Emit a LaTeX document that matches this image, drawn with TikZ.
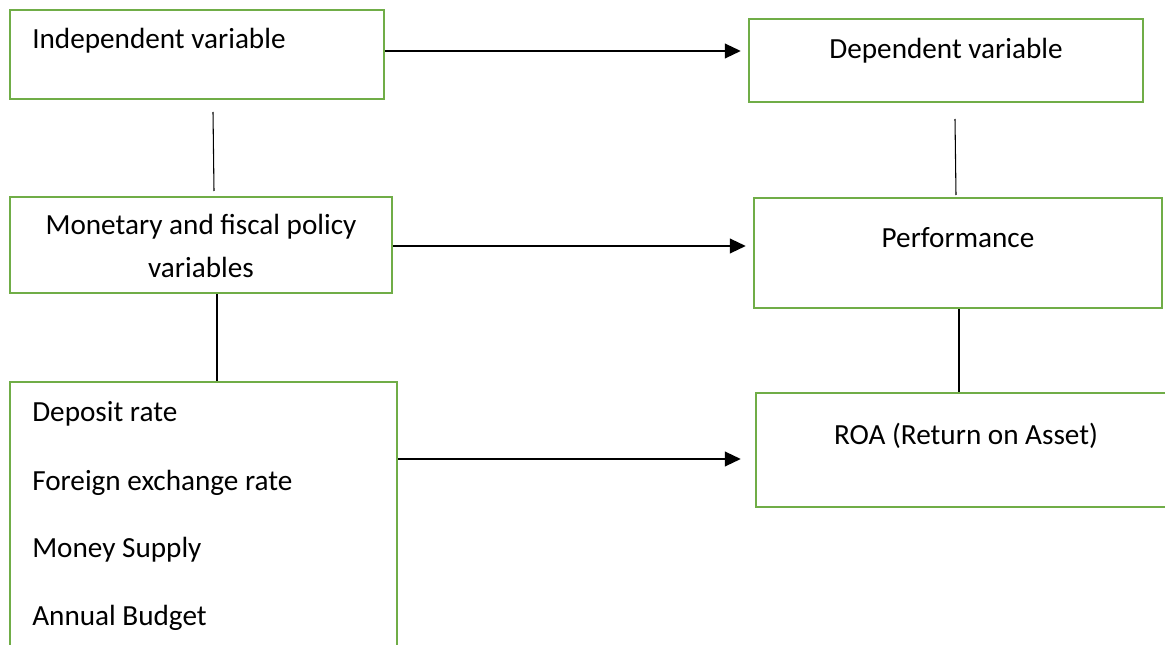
\documentclass[tikz,border=0pt]{standalone}
\usepackage{fontspec}
\setmainfont{Carlito}
\usetikzlibrary{arrows.meta}
\definecolor{boxgreen}{HTML}{70AD47}
\tikzset{
  box/.style={draw=boxgreen, line width=1.8pt, rectangle, inner sep=0pt},
  txt/.style={font=\fontsize{21.9pt}{26pt}\selectfont, inner sep=0pt},
  arr/.style={line width=1.5pt, -{Triangle[length=12pt,width=11pt]}},
  thin/.style={line width=0.8pt}
}
\begin{document}
\begin{tikzpicture}[x=0.75pt,y=-0.75pt]
\useasboundingbox (0,0) rectangle (1165,645);
\clip (0,0) rectangle (1165,645);
% boxes (corners in px)
\node[box, minimum width=374*0.75pt, minimum height=89*0.75pt] (indep) at (197,54.5) {};
\node[box, minimum width=394*0.75pt, minimum height=83*0.75pt] (dep) at (946,60.5) {};
\node[box, minimum width=382*0.75pt, minimum height=96*0.75pt] (mon) at (201,245) {};
\node[box, minimum width=408*0.75pt, minimum height=110*0.75pt] (perf) at (958,253) {};
\node[box, minimum width=387*0.75pt, minimum height=290*0.75pt] (vars) at (203.5,527) {};
\node[box, minimum width=420*0.75pt, minimum height=114*0.75pt] (roa) at (966,450) {};
% texts
\node[txt, anchor=base west] (tindep) at (32,49) {Independent variable};
\node[txt, anchor=base] (tdep) at (946,59) {Dependent variable};
\node[txt, anchor=base] (tmon1) at (201,235) {Monetary and fiscal policy};
\node[txt, anchor=base] (tmon2) at (201,278) {variables};
\node[txt, anchor=base] (tperf) at (958,248) {Performance};
\node[txt, anchor=base] (troa) at (966,445) {ROA (Return on Asset)};
\node[txt, anchor=base west] (v1) at (32,422) {Deposit rate};
\node[txt, anchor=base west] (v2) at (32,490) {Foreign exchange rate};
\node[txt, anchor=base west] (v3) at (32,557) {Money Supply};
\node[txt, anchor=base west] (v4) at (32,625) {Annual Budget};
% arrows
\draw[arr] (indep.east |- 0,51) -- ([xshift=-7*0.75pt]dep.west |- 0,51);
\draw[arr] (mon.east |- 0,246) -- ([xshift=-7*0.75pt]perf.west |- 0,246);
\draw[arr] (vars.east |- 0,459) -- ([xshift=-14*0.75pt]roa.west |- 0,459);
% vertical lines
\coordinate (l1a) at (213,112);
\coordinate (l1b) at (214,191);
\draw[thin] (l1a) -- (l1b);
\draw[thin] (mon.south -| 217,0) -- (vars.north -| 217,0);
\coordinate (l2a) at (955,119);
\coordinate (l2b) at (956,195);
\draw[thin] (l2a) -- (l2b);
\draw[thin] (perf.south -| 959,0) -- (roa.north -| 959,0);
\end{tikzpicture}
\end{document}
